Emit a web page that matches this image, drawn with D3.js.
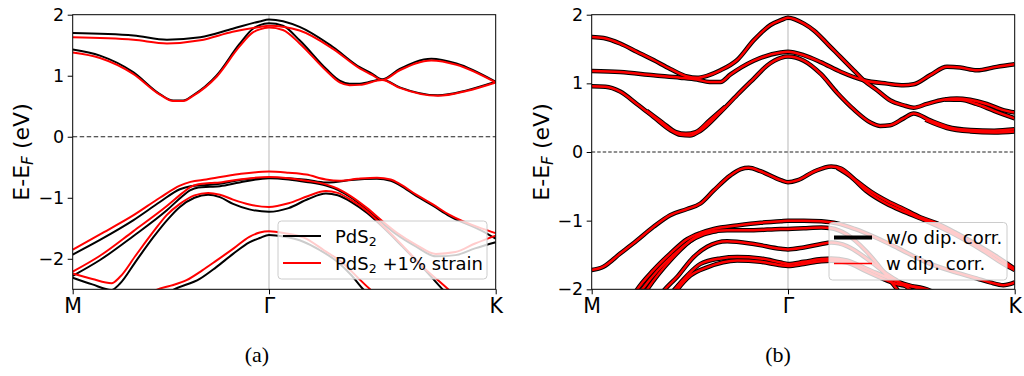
<!DOCTYPE html>
<html><head><meta charset="utf-8">
<script src="https://cdn.jsdelivr.net/npm/d3@7"></script>
<style>body{margin:0;background:#fff;} svg{display:block;}</style>
</head><body><svg id="c" width="1024" height="376"></svg>
<script>
// ---------------- DATA ----------------
const highSymLabels = ["M", "Γ", "K"];
const highSymK = [0, 1, 2.155];           // path coordinate of M, Γ, K
const yTicksA = [-2, -1, 0, 1, 2];
const yTicksB = [-2, -1, 0, 1, 2];
const yRangeA = [-2.5, 2];
const yRangeB = [-2, 2];
const legendA = ["PdS2", "PdS2 +1% strain"];
const legendB = ["w/o dip. corr.", "w dip. corr."];
const captions = ["(a)", "(b)"];

// panel (a): PdS2 (black) bands, [k, E-EF]
const bandsA_PdS2 = [
  [[0,1.70],[0.31,1.66],[0.48,1.59],[0.65,1.63],[0.815,1.77],[0.953,1.89],[1.0,1.92],[1.156,1.80],[1.326,1.47],[1.462,1.14],[1.522,1.04],[1.576,0.94],[1.666,1.11],[1.827,1.28],[1.955,1.20],[2.155,0.90]],
  [[0,1.43],[0.139,1.33],[0.308,1.06],[0.444,0.70],[0.512,0.595],[0.563,0.595],[0.613,0.68],[0.732,1.00],[0.85,1.52],[0.918,1.77],[0.953,1.83],[1.0,1.86],[1.071,1.82],[1.156,1.58],[1.292,1.11],[1.36,0.92],[1.41,0.87],[1.462,0.87],[1.576,0.94],[1.666,0.81],[1.861,0.68],[2.006,0.76],[2.155,0.90]],
  [[0,-1.93],[0.139,-1.69],[0.308,-1.37],[0.444,-1.07],[0.546,-0.86],[0.60,-0.81],[0.68,-0.79],[0.75,-0.77],[0.85,-0.71],[1.0,-0.67],[1.1,-0.68],[1.19,-0.705],[1.29,-0.75],[1.33,-0.745],[1.42,-0.71],[1.55,-0.69],[1.62,-0.72],[1.67,-0.80],[1.75,-0.97],[1.835,-1.13],[1.92,-1.30],[2.09,-1.55],[2.155,-1.67]],
  [[0,-2.28],[0.139,-2.02],[0.308,-1.63],[0.478,-1.21],[0.56,-0.97],[0.597,-0.88],[0.64,-0.83],[0.70,-0.82],[0.75,-0.81],[0.85,-0.75],[1.0,-0.68],[1.1,-0.70],[1.19,-0.74],[1.29,-0.80],[1.35,-0.87],[1.42,-1.00],[1.50,-1.20],[1.58,-1.42],[1.65,-1.60],[1.75,-1.80],[1.85,-1.96],[1.95,-1.94],[2.05,-1.83],[2.155,-1.73]],
  [[0,-2.31],[0.1,-2.42],[0.198,-2.51],[0.24,-2.41],[0.32,-2.05],[0.41,-1.65],[0.48,-1.37],[0.546,-1.15],[0.62,-1.00],[0.69,-0.95],[0.75,-0.99],[0.817,-1.10],[0.9,-1.19],[1.0,-1.23],[1.1,-1.17],[1.2,-1.02],[1.29,-0.93],[1.35,-0.96],[1.42,-1.07],[1.50,-1.25],[1.58,-1.48],[1.68,-1.80],[1.78,-2.13],[1.89,-2.52],[1.93,-2.65]],
  [[0.40,-2.75],[0.512,-2.51],[0.647,-2.33],[0.73,-2.14],[0.817,-1.92],[0.9,-1.73],[0.953,-1.66],[1.0,-1.61],[1.08,-1.64],[1.175,-1.72],[1.26,-1.86],[1.345,-2.04],[1.42,-2.27],[1.48,-2.50],[1.52,-2.62]]
];
// panel (a): PdS2 +1% strain (red) bands
const bandsA_strain = [
  [[0,1.63],[0.31,1.59],[0.48,1.53],[0.65,1.58],[0.815,1.72],[0.953,1.80],[1.0,1.82],[1.156,1.74],[1.326,1.44],[1.462,1.12],[1.522,1.02],[1.576,0.93],[1.666,1.09],[1.827,1.25],[1.955,1.18],[2.155,0.89]],
  [[0,1.38],[0.139,1.29],[0.308,1.03],[0.444,0.69],[0.512,0.585],[0.563,0.585],[0.613,0.67],[0.732,0.98],[0.85,1.48],[0.918,1.71],[0.953,1.76],[1.0,1.79],[1.071,1.75],[1.156,1.53],[1.292,1.08],[1.36,0.89],[1.41,0.845],[1.462,0.85],[1.576,0.93],[1.666,0.80],[1.861,0.67],[2.006,0.75],[2.155,0.89]],
  [[0,-1.85],[0.139,-1.60],[0.308,-1.29],[0.444,-1.00],[0.546,-0.80],[0.60,-0.74],[0.68,-0.70],[0.85,-0.61],[1.0,-0.57],[1.1,-0.59],[1.19,-0.62],[1.29,-0.70],[1.36,-0.72],[1.45,-0.69],[1.55,-0.67],[1.62,-0.70],[1.67,-0.78],[1.75,-0.95],[1.835,-1.11],[1.92,-1.28],[2.09,-1.51],[2.155,-1.58]],
  [[0,-2.21],[0.139,-1.95],[0.308,-1.55],[0.478,-1.14],[0.56,-0.92],[0.597,-0.83],[0.64,-0.78],[0.70,-0.76],[0.75,-0.75],[0.85,-0.70],[1.0,-0.66],[1.1,-0.68],[1.19,-0.72],[1.29,-0.78],[1.35,-0.85],[1.42,-0.98],[1.50,-1.17],[1.58,-1.39],[1.65,-1.57],[1.75,-1.77],[1.85,-1.92],[1.95,-1.89],[2.05,-1.75],[2.155,-1.62]],
  [[0,-2.24],[0.1,-2.33],[0.198,-2.40],[0.24,-2.30],[0.32,-1.95],[0.41,-1.56],[0.48,-1.28],[0.546,-1.10],[0.62,-0.96],[0.69,-0.92],[0.75,-0.95],[0.817,-1.03],[0.9,-1.11],[1.0,-1.15],[1.1,-1.09],[1.2,-0.97],[1.29,-0.89],[1.35,-0.92],[1.42,-1.04],[1.50,-1.22],[1.58,-1.46],[1.68,-1.78],[1.78,-2.12],[1.92,-2.52],[1.96,-2.65]],
  [[0.33,-2.75],[0.427,-2.51],[0.50,-2.44],[0.58,-2.35],[0.66,-2.19],[0.732,-2.03],[0.82,-1.83],[0.9,-1.64],[0.953,-1.57],[1.0,-1.55],[1.08,-1.58],[1.175,-1.65],[1.28,-1.86],[1.38,-2.08],[1.45,-2.30],[1.515,-2.50],[1.56,-2.62]]
];

// panel (b): bands without dipole correction (black)
const bandsB_woDip = [
  [[0,1.675],[0.06,1.66],[0.145,1.58],[0.23,1.46],[0.315,1.34],[0.40,1.21],[0.486,1.10],[0.537,1.08],[0.588,1.11],[0.656,1.19],[0.741,1.34],[0.826,1.63],[0.911,1.85],[0.963,1.92],[1.0,1.956],[1.081,1.87],[1.132,1.77],[1.20,1.58],[1.267,1.385],[1.335,1.19],[1.386,1.045],[1.454,0.90],[1.52,0.753],[1.589,0.68],[1.64,0.646],[1.708,0.70],[1.79,0.76],[1.86,0.78],[1.928,0.76],[2.013,0.70],[2.097,0.61],[2.155,0.575]],
  [[1.80,0.765],[1.88,0.76],[1.96,0.70],[2.05,0.60],[2.155,0.49]],
  [[0,1.18],[0.145,1.165],[0.315,1.117],[0.451,1.083],[0.537,1.055],[0.60,1.02],[0.656,1.02],[0.707,1.13],[0.826,1.33],[0.963,1.45],[1.0,1.46],[1.08,1.41],[1.166,1.31],[1.27,1.166],[1.386,1.045],[1.505,0.996],[1.589,0.972],[1.64,0.986],[1.725,1.12],[1.81,1.24],[1.877,1.23],[1.962,1.19],[2.063,1.24],[2.155,1.277]],
  [[0,0.957],[0.07,0.95],[0.145,0.88],[0.23,0.70],[0.315,0.51],[0.40,0.32],[0.451,0.25],[0.50,0.24],[0.554,0.31],[0.656,0.58],[0.741,0.83],[0.826,1.07],[0.894,1.26],[0.963,1.37],[1.0,1.39],[1.08,1.33],[1.166,1.14],[1.251,0.86],[1.335,0.62],[1.42,0.43],[1.47,0.38],[1.52,0.39],[1.589,0.49],[1.64,0.56],[1.725,0.46],[1.81,0.37],[1.93,0.32],[2.05,0.31],[2.155,0.33]],
  [[0.28,0.60],[0.36,0.43],[0.43,0.29],[0.48,0.265],[0.53,0.29],[0.60,0.46],[0.68,0.66]],
  [[1.70,0.47],[1.81,0.35],[1.93,0.30],[2.05,0.285],[2.155,0.30]],
  [[0,-1.72],[0.06,-1.67],[0.145,-1.48],[0.23,-1.29],[0.315,-1.09],[0.40,-0.92],[0.486,-0.83],[0.554,-0.75],[0.622,-0.56],[0.707,-0.34],[0.76,-0.25],[0.80,-0.23],[0.86,-0.28],[0.963,-0.41],[1.0,-0.44],[1.05,-0.41],[1.136,-0.28],[1.22,-0.21],[1.27,-0.24],[1.34,-0.40],[1.424,-0.58],[1.509,-0.72],[1.589,-0.83],[1.674,-0.95],[1.759,-1.04],[1.85,-1.17],[1.95,-1.33],[2.05,-1.50],[2.155,-1.70]],
  [[1.25,-0.23],[1.32,-0.36],[1.40,-0.57],[1.50,-0.75],[1.60,-0.88],[1.70,-1.00],[1.80,-1.13],[1.90,-1.28],[2.00,-1.45],[2.097,-1.63],[2.155,-1.72]],
  [[0.20,-2.15],[0.23,-2.01],[0.315,-1.72],[0.40,-1.48],[0.486,-1.27],[0.554,-1.18],[0.622,-1.12],[0.741,-1.07],[0.86,-1.03],[0.963,-1.01],[1.0,-1.0],[1.08,-1.0],[1.17,-1.01],[1.25,-1.04],[1.34,-1.12],[1.45,-1.25],[1.56,-1.40],[1.70,-1.60],[1.85,-1.75],[1.96,-1.84],[2.03,-1.90],[2.097,-1.94],[2.155,-1.90]],
  [[0.22,-2.15],[0.255,-2.01],[0.335,-1.73],[0.42,-1.49],[0.50,-1.30],[0.57,-1.20],[0.64,-1.15]],
  [[0.25,-2.15],[0.281,-2.01],[0.40,-1.58],[0.519,-1.26],[0.588,-1.17],[0.69,-1.14],[0.826,-1.14],[0.963,-1.12],[1.0,-1.12],[1.08,-1.11],[1.17,-1.10],[1.22,-1.11],[1.3,-1.20],[1.4,-1.45],[1.48,-1.72],[1.556,-2.0],[1.6,-2.15]],
  [[0.33,-2.15],[0.37,-2.01],[0.435,-1.82],[0.519,-1.53],[0.588,-1.38],[0.69,-1.30],[0.826,-1.34],[0.963,-1.41],[1.0,-1.42],[1.08,-1.39],[1.17,-1.34],[1.22,-1.32],[1.3,-1.37],[1.4,-1.55],[1.5,-1.77],[1.62,-2.0],[1.66,-2.1]],
  [[0.38,-2.15],[0.42,-2.01],[0.486,-1.80],[0.554,-1.63],[0.656,-1.55],[0.741,-1.53],[0.86,-1.55],[0.963,-1.61],[1.0,-1.63],[1.08,-1.60],[1.17,-1.56],[1.22,-1.55],[1.3,-1.58],[1.4,-1.70],[1.55,-1.88],[1.674,-2.0],[1.72,-2.06]],
  [[0.40,-2.15],[0.435,-2.01],[0.503,-1.80],[0.588,-1.68],[0.741,-1.58],[0.86,-1.60],[0.963,-1.65],[1.0,-1.66],[1.08,-1.63],[1.17,-1.59],[1.22,-1.585],[1.3,-1.61],[1.4,-1.74],[1.55,-1.92],[1.708,-2.0],[1.75,-2.05]]
];
// panel (b): with dipole correction (red) -- coincides with the black bands at plot resolution
const bandsB_wDip = bandsB_woDip;

// ---------------- DRAWING ----------------
const svg = d3.select("#c");
const SANS = "DejaVu Sans, sans-serif";
const fmt = d => d < 0 ? "\u2212" + Math.abs(d) : String(d);

function drawPanel(cfg) {
  const x = d3.scaleLinear().domain([highSymK[0], highSymK[2]]).range([cfg.left, cfg.right]);
  const y = d3.scaleLinear().domain(cfg.yDomain).range([cfg.bottom, cfg.top]);
  const clipId = "clip" + cfg.id;
  svg.append("clipPath").attr("id", clipId).append("rect")
    .attr("x", cfg.left).attr("y", cfg.top)
    .attr("width", cfg.right - cfg.left).attr("height", cfg.bottom - cfg.top);
  const plot = svg.append("g").attr("clip-path", `url(#${clipId})`);

  plot.append("line").attr("x1", x(highSymK[1])).attr("x2", x(highSymK[1]))
    .attr("y1", cfg.top).attr("y2", cfg.bottom)
    .attr("stroke", "#c4c4c4").attr("stroke-width", 1.2);
  plot.append("line").attr("x1", cfg.left).attr("x2", cfg.right)
    .attr("y1", y(0)).attr("y2", y(0))
    .attr("stroke", "#222").attr("stroke-width", cfg.dashW).attr("stroke-dasharray", cfg.dash);

  const line = d3.line().x(d => x(d[0])).y(d => y(d[1])).curve(d3.curveMonotoneX);
  cfg.series.forEach(s => {
    plot.append("g").selectAll("path").data(s.bands).join("path")
      .attr("d", line).attr("fill", "none")
      .attr("stroke", s.color).attr("stroke-width", s.width)
      .attr("stroke-linejoin", "round").attr("stroke-linecap", "butt");
  });

  // axes
  const yAxis = d3.axisLeft(y).tickValues(cfg.yTicks).tickFormat(fmt).tickSize(5).tickSizeOuter(0).tickPadding(3.5);
  const gy = svg.append("g").attr("transform", `translate(${cfg.left},0)`).call(yAxis);
  gy.select(".domain").remove();
  gy.selectAll("line").attr("stroke", "#000").attr("stroke-width", 1);
  gy.selectAll("text").attr("font-family", SANS).attr("font-size", 17.5).attr("fill", "#000");

  const xAxis = d3.axisBottom(x).tickValues(highSymK).tickFormat((d, i) => highSymLabels[i]).tickSize(5).tickSizeOuter(0).tickPadding(4);
  const gx = svg.append("g").attr("transform", `translate(0,${cfg.bottom})`).call(xAxis);
  gx.select(".domain").remove();
  gx.selectAll("line").attr("stroke", "#000").attr("stroke-width", 1);
  gx.selectAll("text").attr("font-family", SANS).attr("font-size", 20.5).attr("fill", "#000");

  svg.append("rect").attr("x", cfg.left).attr("y", cfg.top)
    .attr("width", cfg.right - cfg.left).attr("height", cfg.bottom - cfg.top)
    .attr("fill", "none").attr("stroke", "#000").attr("stroke-width", 1);

  // y label
  const yl = svg.append("text").attr("transform", `translate(${cfg.ylabelX},${(cfg.top + cfg.bottom) / 2}) rotate(-90)`)
    .attr("text-anchor", "middle").attr("font-family", SANS).attr("font-size", 22).attr("fill", "#000");
  yl.append("tspan").text("E-E");
  yl.append("tspan").text("F").attr("font-size", 15.5).attr("font-style", "italic").attr("dy", 4);
  yl.append("tspan").text(" (eV)").attr("dy", -4);

  // legend
  const L = cfg.legend;
  svg.append("rect").attr("x", L.x).attr("y", L.y).attr("width", L.w).attr("height", L.h)
    .attr("rx", 3.5).attr("fill", "#fff").attr("fill-opacity", 0.8)
    .attr("stroke", "#cccccc").attr("stroke-width", 1);
  L.items.forEach((it, i) => {
    const yy = L.y + L.row0 + i * L.rowStep;
    svg.append("line").attr("x1", L.x + 5).attr("x2", L.x + 43).attr("y1", yy).attr("y2", yy)
      .attr("stroke", it.color).attr("stroke-width", it.width);
    const t = svg.append("text").attr("x", L.x + 57).attr("y", yy + 6.5)
      .attr("font-family", SANS).attr("font-size", 18).attr("fill", "#000");
    it.text(t);
  });

  // caption
  svg.append("text").attr("x", cfg.capX).attr("y", 362).attr("text-anchor", "middle")
    .attr("font-family", "Liberation Serif, serif").attr("font-size", 22).attr("fill", "#000")
    .text(cfg.caption);
}

function pds2(t, suffix) {
  t.append("tspan").text("PdS");
  t.append("tspan").text("2").attr("font-size", 12.5).attr("dy", 3);
  if (suffix) t.append("tspan").text(suffix).attr("dy", -3);
}

drawPanel({
  id: "a", left: 72.7, right: 495.7, top: 14.7, bottom: 289.3, yDomain: yRangeA, yTicks: yTicksA,
  dash: "4.5,2.5", dashW: 1.2, ylabelX: 29, capX: 257, caption: captions[0],
  series: [
    { bands: bandsA_PdS2, color: "#000", width: 2 },
    { bands: bandsA_strain, color: "#ff0000", width: 2 }
  ],
  legend: { x: 278, y: 221, w: 209, h: 58, row0: 15, rowStep: 27,
    items: [
      { color: "#000", width: 2, text: t => pds2(t, null) },
      { color: "#ff0000", width: 2, text: t => pds2(t, " +1% strain") }
    ] }
});

drawPanel({
  id: "b", left: 591.7, right: 1014.7, top: 14.7, bottom: 289.3, yDomain: yRangeB, yTicks: yTicksB,
  dash: "3.5,2", dashW: 1.1, ylabelX: 548.5, capX: 778, caption: captions[1],
  series: [
    { bands: bandsB_woDip, color: "#000", width: 4.5 },
    { bands: bandsB_wDip, color: "#ff0000", width: 2.5 }
  ],
  legend: { x: 829, y: 222.5, w: 178, h: 57.5, row0: 15, rowStep: 26,
    items: [
      { color: "#000", width: 4, text: t => t.text(legendB[0]) },
      { color: "#ff0000", width: 1.5, text: t => t.text(legendB[1]) }
    ] }
});
</script>
</body></html>
